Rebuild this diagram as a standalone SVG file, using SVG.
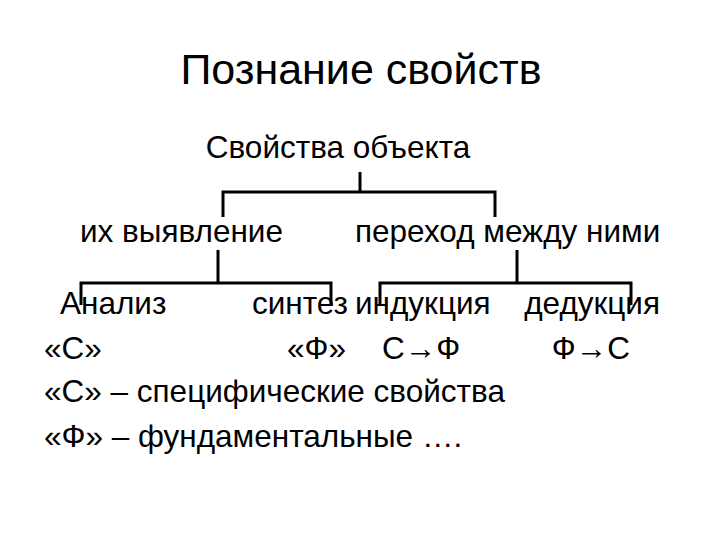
<svg xmlns="http://www.w3.org/2000/svg" width="720" height="540" viewBox="0 0 720 540">
<style>
text{font-family:"Liberation Sans",Arial,sans-serif;font-size:31.5px;fill:#000}
.c{stroke:#000;stroke-width:3;fill:none}
</style>
<rect width="720" height="540" fill="#fff"/>
<text x="361" y="84" text-anchor="middle" style="font-size:43px">Познание свойств</text>
<g id="n-root"><text x="338" y="158" text-anchor="middle">Свойства объекта</text></g>
<g id="n-vyyav"><text x="80" y="242">их выявление</text></g>
<g id="n-perehod"><text x="355" y="242">переход между ними</text></g>
<g id="n-analiz"><text x="60" y="314">Анализ</text><text x="44" y="359">«С»</text></g>
<g id="n-sintez"><text x="348" y="314" text-anchor="end">синтез</text><text x="346" y="359" text-anchor="end">«Ф»</text></g>
<g id="n-induk"><text x="355" y="314">индукция</text><text x="382" y="359">С→Ф</text></g>
<g id="n-deduk"><text x="660" y="314" text-anchor="end">дедукция</text><text x="630" y="359" text-anchor="end">Ф→С</text></g>
<g id="legend"><text x="44" y="402">«С» – специфические свойства</text><text x="44" y="447">«Ф»  – фундаментальные ….</text></g>
<g id="connectors">
<path class="c" d="M360 172V192M223 217V192H495V217"/>
<path class="c" d="M218 250V283M81 305V283H331V305"/>
<path class="c" d="M517 250V283M380 305V283H631V305"/>
</g>
</svg>
